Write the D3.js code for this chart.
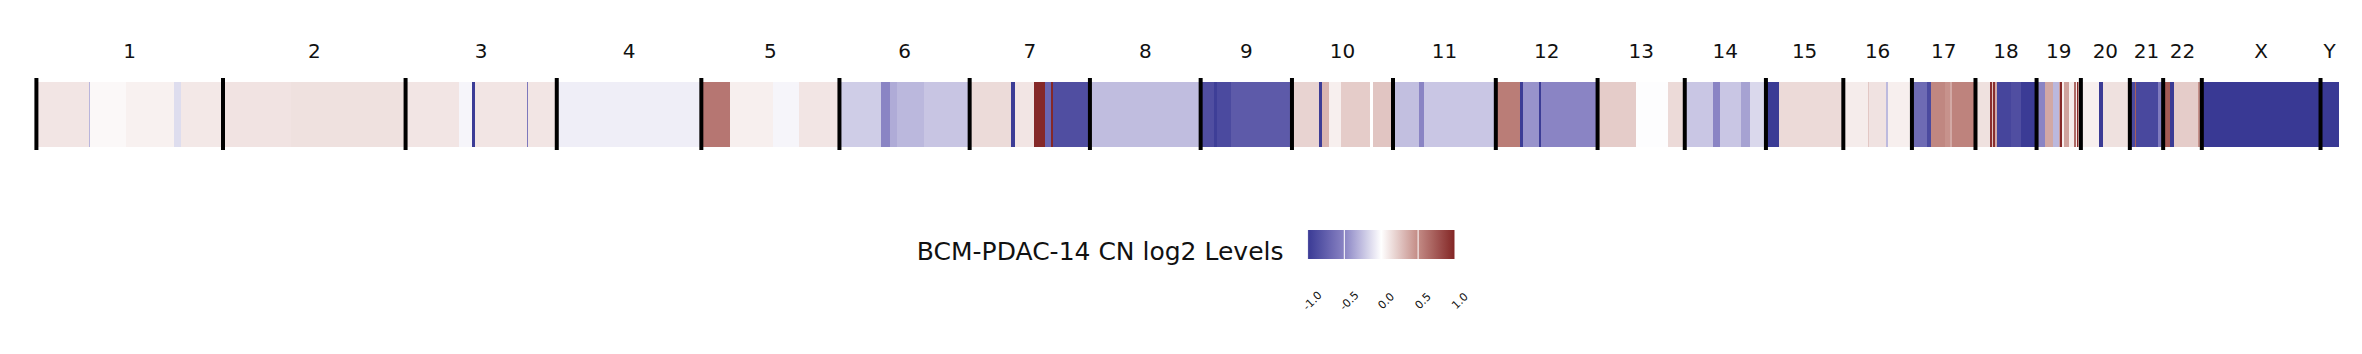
<!DOCTYPE html>
<html>
<head>
<meta charset="utf-8">
<script src="https://cdn.jsdelivr.net/npm/d3@7"></script>
<style>
  body { margin: 0; background: #fff; }
  svg { display: block; font-family: "DejaVu Sans", sans-serif; }
</style>
</head>
<body>
<div id="chart"></div>
<script>
// chromosome names and lengths (Mb) as drawn
var chromNames = ["1","2","3","4","5","6","7","8","9","10","11","12","13","14","15","16","17","18","19","20","21","22","X","Y"];
var chromLengths = [248.1, 242.7, 201.0, 192.2, 183.6, 173.1, 159.9, 147.2, 121.4, 134.3, 136.7, 135.3,
                    115.9, 107.9, 102.9, 91.2, 84.5, 81.2, 58.9, 65.1, 44.3, 51.4, 157.8, 24.3];

// segment end positions (Mb within chromosome, null = chromosome end) and log2 levels
var segEnds = [
  [69.7, 71.3, 119.1, 182.9, 192.2, null],
  [90.4, null],
  [71.0, 88.3, 92.3, 161.4, 162.7, null],
  [null],
  [38.0, 95.2, 129.7, null],
  [55.2, 67.1, 76.4, 112.3, null],
  [54.9, 60.2, 84.9, 100.1, 108.1, 110.3, null],
  [null],
  [18.1, 21.3, 40.3, null],
  [35.4, 39.5, 49.2, 64.9, 103.7, 107.7, null],
  [34.6, 41.2, null],
  [32.2, 36.2, 56.9, 60.1, null],
  [51.0, 93.6, null],
  [37.5, 46.8, 75.4, 86.7, null],
  [16.8, null],
  [32.7, 34.0, 56.6, 59.3, null],
  [19.9, 25.3, 43.9, 50.5, 53.2, null],
  [19.1, 22.5, 23.8, 25.8, 28.4, 47.7, 60.4, null],
  [11.0, 22.1, 29.6, 31.0, 33.6, 36.3, 42.9, 49.6, 52.2, 53.6, 54.9, null],
  [23.9, 29.2, null],
  [6.6, 7.6, 37.2, null],
  [8.9, 14.2, 46.5, null],
  [null],
  [null]
];
var segValues = [
  [0.11, -0.30, 0.03, 0.06, -0.14, 0.10],
  [0.12, 0.13],
  [0.11, -0.04, -0.98, 0.11, -0.58, 0.11],
  [-0.07],
  [0.60, 0.07, -0.04, 0.11],
  [-0.205, -0.5, -0.34, -0.29, -0.235],
  [0.155, -0.98, 0.11, 0.98, -0.70, 0.98, -0.86],
  [-0.27],
  [-0.86, -0.97, -0.89, -0.78],
  [0.19, -0.98, 0.32, 0.07, 0.22, 0.0, 0.25],
  [-0.26, -0.5, -0.23],
  [0.57, -0.98, -0.44, -0.98, -0.5],
  [0.22, -0.01, 0.16],
  [-0.23, -0.5, -0.23, -0.38, -0.16],
  [-0.99, 0.16],
  [0.08, 0.24, 0.125, -0.28, 0.07],
  [-0.67, -0.89, 0.52, 0.47, 0.37, 0.54],
  [0.13, 0.95, 0.25, 0.95, 0.37, -0.92, -0.86, -0.99],
  [-0.5, 0.375, -0.29, 0.42, 0.98, 0.07, 0.40, 0.08, 0.67, 0.07, 0.98, 0.40],
  [0.07, -0.99, 0.13],
  [-0.89, 0.71, -0.90, -0.56],
  [0.74, -0.99, 0.22, 0.48],
  [-1.05],
  [-1.05]
];

var legendTicks = [-1.0, -0.5, 0.0, 0.5, 1.0];
var legendTitle = "BCM-PDAC-14 CN log2 Levels";

var W = 2362, H = 354;
var barTop = 82, barBottom = 147;

var svg = d3.select("#chart").append("svg")
  .attr("width", W)
  .attr("height", H);

// cumulative chromosome offsets
var offsets = [];
var total = 0;
chromLengths.forEach(function(len){ offsets.push(total); total += len; });

var x = d3.scaleLinear()
  .domain([0, total])
  .range([36.4, 2338.8]);

var color = d3.scaleLinear()
  .domain([-1, -0.5, 0, 0.5, 1])
  .range(["#393994", "#8a84c4", "#ffffff", "#c38b85", "#822424"])
  .clamp(true);

// flatten segments
var segments = [];
chromNames.forEach(function(name, i){
  var start = 0;
  segEnds[i].forEach(function(e, j){
    var end = (e === null) ? chromLengths[i] : e;
    segments.push({ chrom: name, s: offsets[i] + start, e: offsets[i] + end, v: segValues[i][j] });
    start = end;
  });
});

var g = svg.append("g");

g.selectAll("rect.seg")
  .data(segments)
  .enter()
  .append("rect")
  .attr("class", "seg")
  .attr("x", function(d){ return x(d.s); })
  .attr("width", function(d){ return Math.max(0.6, x(d.e) - x(d.s)); })
  .attr("y", barTop)
  .attr("height", barBottom - barTop)
  .attr("fill", function(d){ return color(d.v); })
  .attr("shape-rendering", "crispEdges");

// chromosome boundaries
g.selectAll("line.bound")
  .data(chromNames)
  .enter()
  .append("line")
  .attr("class", "bound")
  .attr("x1", function(d, i){ return x(offsets[i]); })
  .attr("x2", function(d, i){ return x(offsets[i]); })
  .attr("y1", barTop - 4)
  .attr("y2", barBottom + 3)
  .attr("stroke", "#000")
  .attr("stroke-width", 4);

// chromosome labels
g.selectAll("text.chrom")
  .data(chromNames)
  .enter()
  .append("text")
  .attr("class", "chrom")
  .attr("x", function(d, i){ return x(offsets[i] + chromLengths[i] / 2); })
  .attr("y", 58)
  .attr("text-anchor", "middle")
  .attr("font-size", "20px")
  .attr("fill", "#111")
  .text(function(d){ return d; });

// legend
var lx = d3.scaleLinear().domain([-1, 1]).range([1307.5, 1455]);
var defs = svg.append("defs");
var grad = defs.append("linearGradient")
  .attr("id", "cn-grad")
  .attr("x1", "0%").attr("x2", "100%")
  .attr("y1", "0%").attr("y2", "0%");
d3.range(0, 21).forEach(function(k){
  var v = -1 + k * 0.1;
  grad.append("stop")
    .attr("offset", (k * 5) + "%")
    .attr("stop-color", color(v));
});

var leg = svg.append("g");
leg.append("rect")
  .attr("x", lx(-1))
  .attr("y", 230)
  .attr("width", lx(1) - lx(-1))
  .attr("height", 29)
  .attr("fill", "url(#cn-grad)");

leg.selectAll("line.tick")
  .data(legendTicks)
  .enter()
  .append("line")
  .attr("class", "tick")
  .attr("x1", function(d){ return lx(d); })
  .attr("x2", function(d){ return lx(d); })
  .attr("y1", 230)
  .attr("y2", 259)
  .attr("stroke", "#fff")
  .attr("stroke-opacity", 0.85)
  .attr("stroke-width", 1.2);

leg.selectAll("text.tlab")
  .data(legendTicks)
  .enter()
  .append("text")
  .attr("class", "tlab")
  .attr("transform", function(d){ return "translate(" + (lx(d) + 5) + ",301) rotate(-45)"; })
  .attr("text-anchor", "middle")
  .attr("dominant-baseline", "central")
  .attr("font-size", "11px")
  .attr("fill", "#111")
  .text(function(d){ return d.toFixed(1); });

leg.append("text")
  .attr("x", 1283.5)
  .attr("y", 260)
  .attr("text-anchor", "end")
  .attr("font-size", "25px")
  .attr("fill", "#111")
  .text(legendTitle);
</script>
</body>
</html>
